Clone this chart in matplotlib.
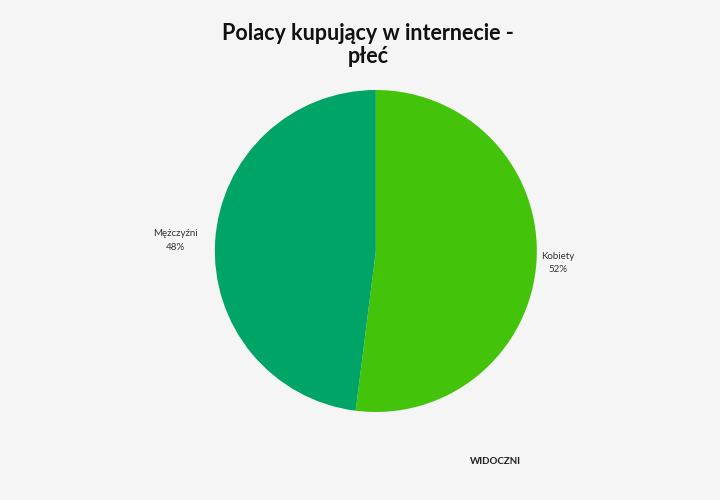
import matplotlib
matplotlib.use("Agg")
import matplotlib.pyplot as plt

labels = ["Kobiety", "Mężczyźni"]
shares = [52, 48]
colors = ["#43c40b", "#00a466"]

plt.rcParams["font.family"] = ["Lato", "DejaVu Sans"]

fig = plt.figure(figsize=(7.2, 5.0), dpi=100, facecolor="#f5f5f5")
ax = fig.add_axes([0.522 - 0.2236, 0.498 - 0.322, 0.4472, 0.644])
ax.set_facecolor("#f5f5f5")

texts = ax.pie(shares, colors=colors, startangle=90, counterclock=False,
               labels=[f"{l}\n{v}%" for l, v in zip(labels, shares)],
               labeldistance=1.03,
               wedgeprops=dict(linewidth=0),
               textprops=dict(fontsize=7, color="#333333", multialignment="center",
                              linespacing=1.6))[1]
ax.set_xlim(-1, 1)
ax.set_ylim(-1, 1)
ax.set_aspect("equal")

# Mężczyźni label sits a bit further out in the original
x, y = texts[1].get_position()
texts[1].set_position((x - 0.08, y))
x, y = texts[0].get_position()
texts[0].set_position((x, y - 0.01))

fig.text(0.511, 0.91, "Polacy kupujący w internecie -\npłeć", ha="center", va="center",
         fontsize=15.5, fontweight="bold", color="#111111", linespacing=1.1)

# watermark
fig.text(0.688, 0.078, "WIDOCZNI", ha="center", va="center", fontsize=7,
         fontweight="bold", color="#222222")

fig.savefig("out.png", dpi=100, facecolor=fig.get_facecolor())
